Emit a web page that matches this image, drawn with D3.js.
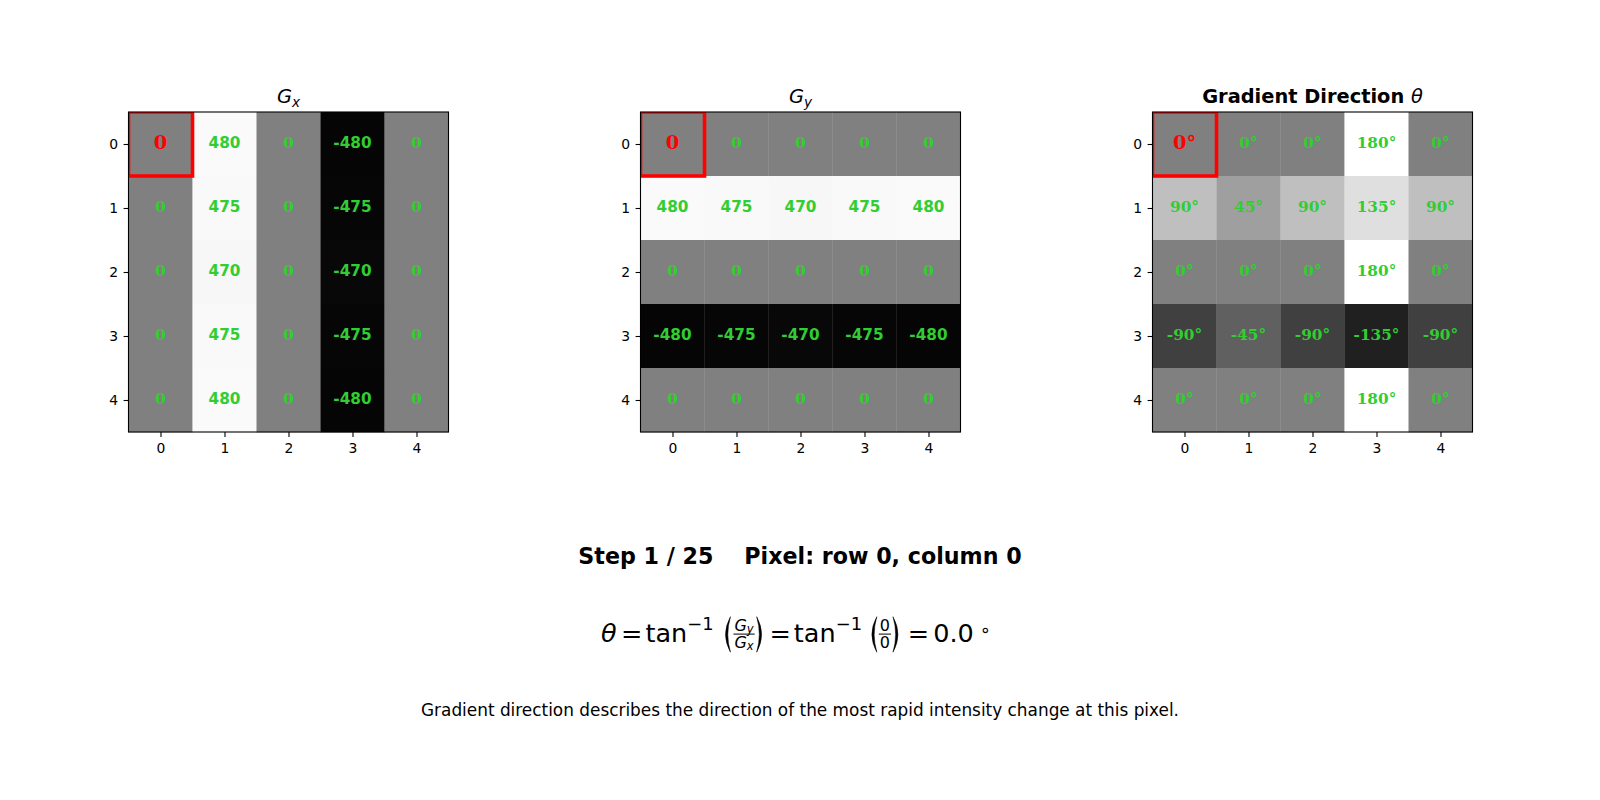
<!DOCTYPE html>
<html><head><meta charset="utf-8">
<script src="https://cdn.jsdelivr.net/npm/d3@7"></script>
<style>
body{margin:0;background:#fff}
text{font-family:"DejaVu Sans";}
</style>
</head><body>
<svg id="c" width="1600" height="800"></svg>
<script>
// ---------------- data ----------------
const rowIdx = [0, 1, 2, 3, 4];
const colIdx = [0, 1, 2, 3, 4];
const tickLabels = ["0", "1", "2", "3", "4"];
const gxValues = [
  [0, 480, 0, -480, 0],
  [0, 475, 0, -475, 0],
  [0, 470, 0, -470, 0],
  [0, 475, 0, -475, 0],
  [0, 480, 0, -480, 0]
];
const gyValues = [
  [0, 0, 0, 0, 0],
  [480, 475, 470, 475, 480],
  [0, 0, 0, 0, 0],
  [-480, -475, -470, -475, -480],
  [0, 0, 0, 0, 0]
];
const thetaValues = [
  [0, 0, 0, 180, 0],
  [90, 45, 90, 135, 90],
  [0, 0, 0, 180, 0],
  [-90, -45, -90, -135, -90],
  [0, 0, 0, 180, 0]
];
const currentPixel = {row: 0, col: 0};
const stepLabel = "Step 1 / 25    Pixel: row 0, column 0";
const noteLabel = "Gradient direction describes the direction of the most rapid intensity change at this pixel.";
const formulaGy = "0", formulaGx = "0", formulaResult = "0.0";

// ---------------- drawing ----------------
const svg = d3.select("#c");
svg.append("rect").attr("width", 1600).attr("height", 800).attr("fill", "#fff");

const SIZE = 320, TOP = 112;
const panels = [
  {id: "gx", data: gxValues, domain: [-500, 500], fmt: v => String(v), left: 128.5, title: "gx"},
  {id: "gy", data: gyValues, domain: [-500, 500], fmt: v => String(v), left: 640.5, title: "gy"},
  {id: "th", data: thetaValues, domain: [-180, 180], fmt: v => v + "°", left: 1152.5, title: "theta"}
];

const defs = svg.append("defs");

panels.forEach(p => {
  const g = svg.append("g").attr("transform", `translate(${p.left},${TOP})`);
  const x = d3.scaleLinear().domain([-0.5, 4.5]).range([0, SIZE]);
  const y = d3.scaleLinear().domain([-0.5, 4.5]).range([0, SIZE]);
  const gray = d3.scaleLinear().domain(p.domain).range([0, 255]).clamp(true);

  defs.append("clipPath").attr("id", "clip-" + p.id)
    .append("rect").attr("width", SIZE).attr("height", SIZE);

  const cells = [];
  rowIdx.forEach(r => colIdx.forEach(c => cells.push({r, c, v: p.data[r][c]})));

  g.selectAll("rect.cell").data(cells).join("rect")
    .attr("class", "cell")
    .attr("x", d => x(d.c - 0.5))
    .attr("y", d => y(d.r - 0.5))
    .attr("width", d => x(d.c + 0.5) - x(d.c - 0.5) + 0.3)
    .attr("height", d => y(d.r + 0.5) - y(d.r - 0.5) + 0.3)
    .attr("fill", d => { const k = Math.round(gray(d.v)); return `rgb(${k},${k},${k})`; });

  g.selectAll("text.val").data(cells).join("text")
    .attr("class", "val")
    .each(function(d) {
      const label = p.fmt(d.v);
      const isCur = d.r === currentPixel.row && d.c === currentPixel.col;
      const serif = label === "0" || label.includes("°");
      const fs = isCur ? 19.4 : 15.3;
      d3.select(this)
        .attr("x", x(d.c))
        .attr("y", y(d.r) + (isCur ? 4.7 : 4))
        .attr("text-anchor", "middle")
        .style("font-family", serif ? "DejaVu Serif" : "DejaVu Sans")
        .style("font-weight", "bold")
        .style("font-size", fs + "px")
        .attr("fill", isCur ? "#ff0000" : "#32cd32")
        .text(label);
    });

  // highlight box
  g.append("rect")
    .attr("x", x(currentPixel.col - 0.5)).attr("y", y(currentPixel.row - 0.5))
    .attr("width", x(currentPixel.col + 0.5) - x(currentPixel.col - 0.5))
    .attr("height", y(currentPixel.row + 0.5) - y(currentPixel.row - 0.5))
    .attr("fill", "none").attr("stroke", "#ff0000").attr("stroke-width", 3.6)
    .attr("clip-path", `url(#clip-${p.id})`);

  // frame
  g.append("rect").attr("width", SIZE).attr("height", SIZE)
    .attr("fill", "none").attr("stroke", "#000").attr("stroke-width", 1.1);

  const ax = g.append("g").attr("transform", `translate(0,${SIZE})`)
    .call(d3.axisBottom(x).tickValues(colIdx).tickFormat(i => tickLabels[i]).tickSize(4.9).tickPadding(6.2));
  const ay = g.append("g")
    .call(d3.axisLeft(y).tickValues(rowIdx).tickFormat(i => tickLabels[i]).tickSize(4.9).tickPadding(5.6));
  [ax, ay].forEach(a => {
    a.select(".domain").remove();
    a.selectAll("line").attr("stroke", "#000").attr("stroke-width", 1.1);
    a.selectAll("text").style("font-family", "DejaVu Sans").style("font-size", "13.9px").attr("fill", "#000");
  });

  // titles
  const t = g.append("text").attr("x", SIZE / 2).attr("y", -9).attr("text-anchor", "middle")
    .style("font-size", "19.4px").attr("fill", "#000");
  if (p.title === "theta") {
    t.append("tspan").style("font-weight", "bold").text("Gradient Direction ");
    t.append("tspan").style("font-style", "italic").text("θ");
  } else {
    t.append("tspan").style("font-style", "italic").text("G");
    t.append("tspan").style("font-style", "italic").style("font-size", "13.6px").attr("dy", 3.5)
      .text(p.title === "gx" ? "x" : "y");
  }
});

// step text
svg.append("text").attr("x", 800).attr("y", 564).attr("text-anchor", "middle")
  .style("font-weight", "bold").style("font-size", "22.2px").style("white-space", "pre")
  .attr("xml:space", "preserve").text(stepLabel);

// note
svg.append("text").attr("x", 800).attr("y", 716).attr("text-anchor", "middle")
  .style("font-size", "16.9px").text(noteLabel);

// ---------------- formula ----------------
const FS = 25.5, SUP = 17.9, FR = 16, SUB = 11.5;
const base = 641.7;
const fg = svg.append("g");
let cx = 0;
function addText(str, opt = {}) {
  cx += opt.gap || 0;
  const t = fg.append("text").attr("x", cx).attr("y", base - (opt.raise || 0))
    .style("font-size", (opt.size || FS) + "px")
    .style("font-style", opt.italic ? "italic" : "normal")
    .text(str);
  cx += t.node().getComputedTextLength();
}
function addParen(open, gap) {
  cx += gap;
  const w = 6.8, top = base - 25, bot = base + 10.5, mid = (top + bot) / 2, th = 2.3;
  let d;
  if (open) {
    d = `M${cx + w},${top} Q${cx - 0.45 * w},${mid} ${cx + w},${bot} L${cx + w},${bot} Q${cx - 0.45 * w + 2 * th},${mid} ${cx + w},${top}Z`;
  } else {
    d = `M${cx},${top} Q${cx + 1.45 * w},${mid} ${cx},${bot} L${cx},${bot} Q${cx + 1.45 * w - 2 * th},${mid} ${cx},${top}Z`;
  }
  fg.append("path").attr("d", d).attr("fill", "#000").attr("stroke", "#000").attr("stroke-width", 0.5);
  cx += w;
}
function frac(numParts, denParts, gap) {
  cx += gap;
  const mk = (parts, yb) => {
    const t = fg.append("text").attr("y", yb).attr("text-anchor", "start");
    parts.forEach(pt => t.append("tspan")
      .style("font-size", pt.size + "px")
      .style("font-style", pt.italic ? "italic" : "normal")
      .attr("dy", pt.dy || 0)
      .text(pt.s));
    return t;
  };
  const n = mk(numParts, base - 11.2);
  const dn = mk(denParts, base + 6);
  const wn = n.node().getComputedTextLength(), wd = dn.node().getComputedTextLength();
  const w = Math.max(wn, wd) + 2;
  n.attr("x", cx + (w - wn) / 2);
  dn.attr("x", cx + (w - wd) / 2);
  fg.append("line").attr("x1", cx).attr("x2", cx + w).attr("y1", base - 7.6).attr("y2", base - 7.6)
    .attr("stroke", "#000").attr("stroke-width", 1);
  cx += w;
}

addText("θ", {italic: true});
addText("=", {gap: 4.5});
addText("tan", {gap: 3});
addText("−1", {size: SUP, raise: 12, gap: 0});
addParen(true, 10);
frac([{s: "G", size: FR, italic: true}, {s: "y", size: SUB, italic: true, dy: 2.5}],
     [{s: "G", size: FR, italic: true}, {s: "x", size: SUB, italic: true, dy: 2.5}], 3);
addParen(false, 2);
addText("=", {gap: 6});
addText("tan", {gap: 3});
addText("−1", {size: SUP, raise: 12, gap: 0});
addParen(true, 8);
frac([{s: formulaGy, size: FR}], [{s: formulaGx, size: FR}], 2);
addParen(false, 2);
addText("=", {gap: 8});
addText(formulaResult, {gap: 4});
addText("∘", {size: SUP, raise: 6, gap: 6});
const bb = fg.node().getBBox();
fg.attr("transform", `translate(${601 - bb.x},0)`);
</script>
</body></html>
